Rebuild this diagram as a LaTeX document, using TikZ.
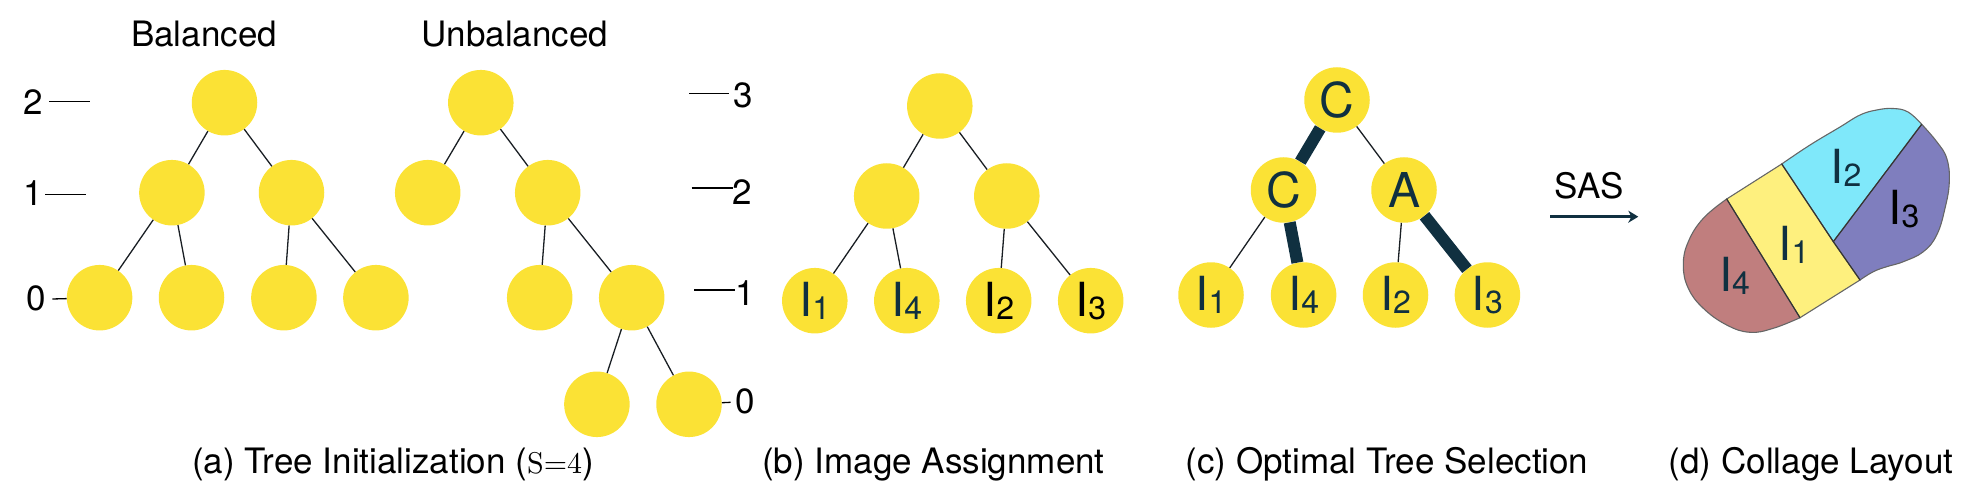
\documentclass[tikz,border=0pt]{standalone}
\usepackage{fontspec}
\setmainfont{TeX Gyre Heros}
\newfontfamily\lmten{lmroman10-regular.otf}
\usetikzlibrary{arrows.meta}
\definecolor{nodey}{RGB}{251,226,53}
\definecolor{navy}{RGB}{16,48,64}
\definecolor{edgec}{RGB}{25,30,35}
\definecolor{cbrown}{RGB}{192,126,126}
\definecolor{cyell}{RGB}{254,240,126}
\definecolor{ccyan}{RGB}{127,232,250}
\definecolor{cpurp}{RGB}{127,126,190}
\newcommand{\ilab}[1]{{\fontsize{47}{47}\selectfont I}\raisebox{-3pt}{\fontsize{32}{32}\selectfont #1}}
\begin{document}
\begin{tikzpicture}[x=1pt,y=-1pt,
  tn/.style={circle, fill=nodey, minimum size=65.5pt, inner sep=0pt},
  ed/.style={draw=edgec, line width=1.3pt},
  thk/.style={draw=navy, line width=12pt},
  lvl/.style={font=\fontsize{35}{35}\selectfont, inner sep=0pt},
  lvline/.style={draw=black, line width=1.3pt},
  captxt/.style={font=\fontsize{35}{35}\selectfont, anchor=base, inner sep=0pt},
  bigl/.style={font=\fontsize{48}{48}\selectfont, text=navy},
  seg/.style={draw=black!80, line width=1.1pt},
  outl/.style={draw=black!60, line width=1.1pt}]
\useasboundingbox (0,0) rectangle (1986,497);

% ---------- (a) titles
\node[captxt] (tbal) at (204,46.7) {Balanced};
\node[captxt] (tunb) at (515,46.7) {Unbalanced};

% level labels left
\node[lvl] (n2) at (33.3,101.7) {2};
\node[lvl] (n1) at (33.3,193.3) {1};
\node[lvl] (n0) at (36,298.3) {0};
\coordinate (n2a) at (49.3,101.3); \coordinate (n2b) at (90,101.3);
\coordinate (n1a) at (45,194.3); \coordinate (n1b) at (86,194.3);
\coordinate (n0a) at (52.3,299);

% balanced tree
\node[tn] (br) at (224.5,102.7) {};
\node[tn] (bc1) at (171.9,192.7) {};
\node[tn] (bc2) at (291.5,192.7) {};
\node[tn] (bl1) at (99.6,297.7) {};
\node[tn] (bl2) at (191.5,297.7) {};
\node[tn] (bl3) at (283.9,297.7) {};
\node[tn] (bl4) at (375.9,297.7) {};
\draw[ed] (br) -- (bc1); \draw[ed] (br) -- (bc2);
\draw[ed] (bc1) -- (bl1); \draw[ed] (bc1) -- (bl2);
\draw[ed] (bc2) -- (bl3); \draw[ed] (bc2) -- (bl4);

\draw[lvline] (n2a) -- (n2b);
\draw[lvline] (n1a) -- (n1b);
\draw[lvline] (n0a) -- (bl1);

% unbalanced tree
\node[tn] (ur) at (480.8,102.7) {};
\node[tn] (uc1) at (427.7,192.7) {};
\node[tn] (uc2) at (547.7,192.7) {};
\node[tn] (ud1) at (539.7,297.7) {};
\node[tn] (ud2) at (631.7,297.7) {};
\node[tn] (ue1) at (596.9,404.3) {};
\node[tn] (ue2) at (689,404.3) {};
\draw[ed] (ur) -- (uc1); \draw[ed] (ur) -- (uc2);
\draw[ed] (uc2) -- (ud1); \draw[ed] (uc2) -- (ud2);
\draw[ed] (ud2) -- (ue1); \draw[ed] (ud2) -- (ue2);

% level labels right
\node[lvl] (m3) at (743.3,95) {3};
\node[lvl] (m2) at (742.3,191.7) {2};
\node[lvl] (m1) at (745,292.7) {1};
\node[lvl] (m0) at (745,401.7) {0};
\coordinate (m3a) at (689,93.3); \coordinate (m3b) at (729.3,93.3);
\coordinate (m2a) at (691.7,188); \coordinate (m2b) at (733.3,188);
\coordinate (m1a) at (694,290); \coordinate (m1b) at (735,290);
\coordinate (m0b) at (730.7,402.3);
\draw[lvline] (m3a) -- (m3b);
\draw[lvline] (m2a) -- (m2b);
\draw[lvline] (m1a) -- (m1b);
\draw[lvline] (ue2) -- (m0b);

% ---------- (b) image assignment
\node[tn] (ar) at (939.8,106) {};
\node[tn] (ac1) at (886.7,196) {};
\node[tn] (ac2) at (1006.8,196) {};
\node[tn, text=navy] (al1) at (814.8,300.7) {\ilab{1}};
\node[tn, text=navy] (al2) at (906.8,300.7) {\ilab{4}};
\node[tn, text=black] (al3) at (998.7,300.7) {\ilab{2}};
\node[tn, text=black] (al4) at (1090.7,300.7) {\ilab{3}};
\draw[ed] (ar) -- (ac1); \draw[ed] (ar) -- (ac2);
\draw[ed] (ac1) -- (al1); \draw[ed] (ac1) -- (al2);
\draw[ed] (ac2) -- (al3); \draw[ed] (ac2) -- (al4);

% ---------- (c) optimal tree selection
\node[tn, bigl] (sr) at (1337,100) {C};
\node[tn, bigl] (sc1) at (1283.5,190) {C};
\node[tn, bigl] (sc2) at (1404,190) {A};
\node[tn, text=navy] (sl1) at (1211,295) {\ilab{1}};
\node[tn, text=navy] (sl2) at (1303.6,295) {\ilab{4}};
\node[tn, text=navy] (sl3) at (1395.5,295) {\ilab{2}};
\node[tn, text=navy] (sl4) at (1487.4,295) {\ilab{3}};
\draw[thk] (sr) -- (sc1);
\draw[ed] (sr) -- (sc2);
\draw[ed] (sc1) -- (sl1);
\draw[thk] (sc1) -- (sl2);
\draw[ed] (sc2) -- (sl3);
\draw[thk] (sc2) -- (sl4);

% ---------- SAS arrow
\node[captxt] (sas) at (1589,198.3) {SAS};
\coordinate (sasa) at (1550,216.7);
\coordinate (sasb) at (1638.3,216.7);
\draw[draw=navy, line width=2.7pt, -{Stealth[length=10pt,width=12pt,inset=3pt]}] (sasa) -- (sasb);

% ---------- (d) collage
\coordinate (Pa) at (1726.7,199);
\coordinate (Pb) at (1781.7,164);
\coordinate (Pc) at (1921.7,124.3);
\coordinate (Pd) at (1833.3,241.7);
\coordinate (Pe) at (1860,280);
\coordinate (Pf) at (1800,317.7);
\path[fill=cbrown, outl] (Pa) -- (Pf) -- plot[smooth,tension=0.7] coordinates {(1800,317.7) (1773.3,328.3) (1750,332.3) (1726.7,325) (1703.3,308.3) (1688.3,288.3) (1683.3,265) (1688.3,241.7) (1703.3,218.3) (1726.7,199)} -- cycle;
\path[fill=ccyan, outl] (Pb) -- (Pd) -- (Pc) -- plot[smooth,tension=0.7] coordinates {(1921.7,124.3) (1908,112) (1893,108.5) (1876.7,110) (1860,115) (1840,127) (1810,145) (1781.7,164)} -- cycle;
\path[fill=cpurp, outl] (Pc) -- (Pd) -- (Pe) -- plot[smooth,tension=0.7] coordinates {(1860,280) (1873.3,271.7) (1886.7,266.7) (1903.3,261.7) (1923.3,251.7) (1936.7,235) (1945,208.3) (1949.3,181.7) (1946.7,158.3) (1936.7,141.7) (1921.7,124.3)} -- cycle;
\path[fill=cyell, outl] (Pa) -- (Pb) -- (Pd) -- (Pe) -- (Pf) -- cycle;
\draw[seg] (Pa) -- (Pf);
\draw[seg] (Pb) -- (Pd);
\draw[seg] (Pd) -- (Pc);
\draw[seg] (Pd) -- (Pe);
\node[text=navy, inner sep=0pt] (c2) at (1846,168) {\ilab{2}};
\node[text=black, inner sep=0pt] (c3) at (1904,209) {\ilab{3}};
\node[text=navy, inner sep=0pt] (c1) at (1794,244.5) {\ilab{1}};
\node[text=navy, inner sep=0pt] (c4) at (1734.5,276) {\ilab{4}};

% ---------- captions
\node[captxt] (capa) at (393,473.3) {(a) Tree Initialization ({\fontsize{30}{30}\lmten S=4})};
\node[captxt] (capb) at (933.5,473.3) {(b) Image Assignment};
\node[captxt] (capc) at (1387,473.3) {(c) Optimal Tree Selection};
\node[captxt] (capd) at (1811,473.3) {(d) Collage Layout};
\end{tikzpicture}
\end{document}
